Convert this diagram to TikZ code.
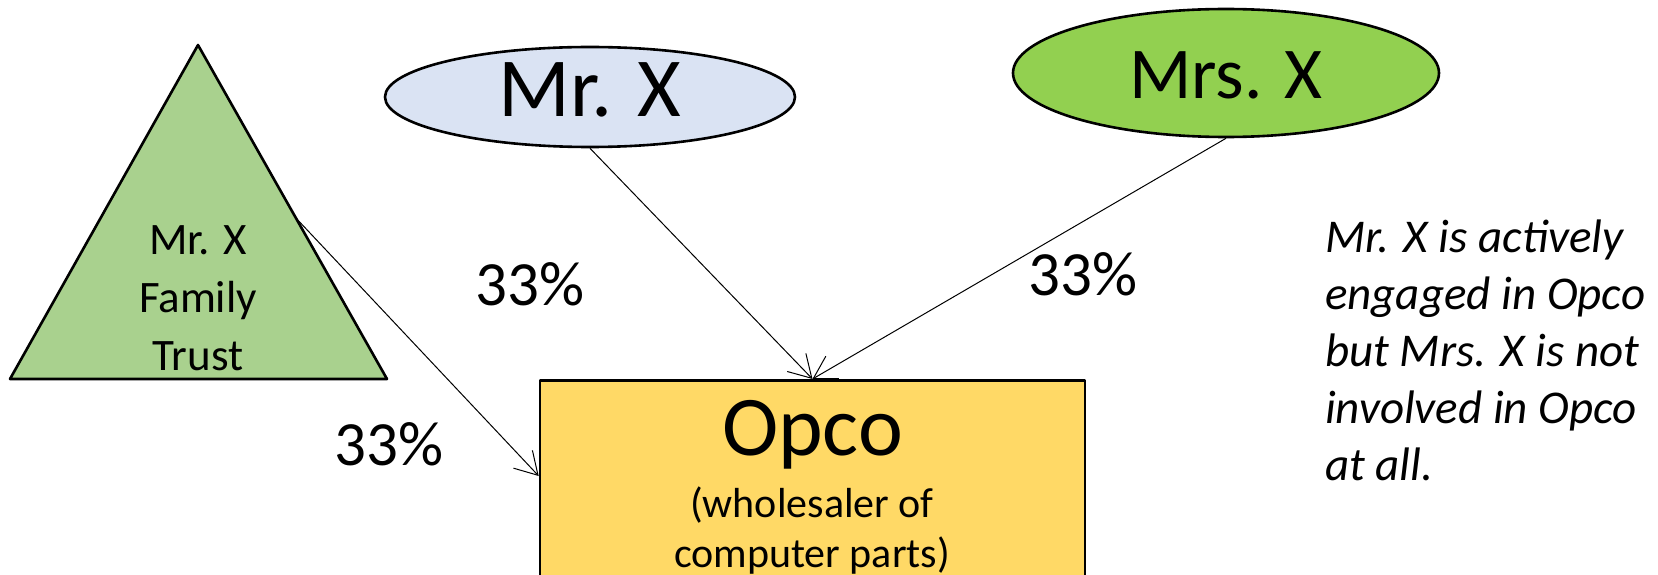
\documentclass[tikz,border=0pt]{standalone}
\usepackage{fontspec}
\setmainfont{Carlito}
\usetikzlibrary{arrows.meta,calc,shapes.geometric}

\definecolor{trustgreen}{HTML}{A9D18E}
\definecolor{mrblue}{HTML}{DAE3F3}
\definecolor{mrsgreen}{HTML}{92D050}
\definecolor{opcogold}{HTML}{FFD966}

\tikzset{
  border/.style={draw=black, line width=2.6pt, line join=round},
  owner/.style={border, ellipse, inner sep=0pt},
  stake/.style={draw=black, line width=1pt,
    -{Straight Barb[length=22pt, width=26pt, line width=1pt]}},
  pct/.style={font=\fontsize{63}{70}\selectfont, inner sep=0pt, anchor=base},
}

\begin{document}
\begin{tikzpicture}[x=1pt, y=-1pt]
\useasboundingbox (0,0) rectangle (1658,575);
\clip (0,0) rectangle (1658,575);

% family trust (triangle drawn as a path, text set inside it)
\coordinate (tA) at (198,45);
\coordinate (tL) at (10,379);
\coordinate (tR) at (387,379);
\draw[border, fill=trustgreen] (tA) -- (tL) -- (tR) -- cycle;
% multi-line nodes: the base anchor sits on the last line
\node[font=\fontsize{45}{58}\selectfont, align=center, inner sep=0pt, anchor=base]
  (trust) at (198,370) {Mr. X\\Family\\Trust};
\coordinate (trustout) at ($(tA)!0.518!(tR)$);

% shareholders
\node[owner, fill=mrblue, minimum width=410pt, minimum height=100pt,
      font=\fontsize{84}{90}\selectfont, text height=55pt, text depth=15pt]
  (mrx) at (590,97) {Mr. X};
\node[owner, fill=mrsgreen, minimum width=426pt, minimum height=128pt,
      font=\fontsize{73}{80}\selectfont, text height=52pt, text depth=0pt]
  (mrsx) at (1226,73) {Mrs. X};

% operating company (runs past the lower edge)
\node[border, fill=opcogold, minimum width=545pt, minimum height=240pt,
      anchor=north, inner sep=0pt] (opco) at (812.5,379) {};
\node[font=\fontsize{85}{90}\selectfont, inner sep=0pt, anchor=base]
  (opconame) at (812.5,455) {Opco};
\node[font=\fontsize{42}{50}\selectfont, align=center, inner sep=0pt, anchor=base]
  (opcodesc) at (812,567) {(wholesaler of\\computer parts)};

% ownership links
\coordinate (opcoin) at ($(opco.north west)+(0,97)$);
\draw[stake] (mrx.south) -- (opco.north);
\draw[stake] (mrsx.south) -- (opco.north);
\draw[stake] (trustout) -- (opcoin);

\node[pct] (pmr) at (530,305) {33\%};
\node[pct] (pmrs) at (1083,295) {33\%};
\node[pct] (ptrust) at (389,465) {33\%};

% note
\node[font=\fontsize{47}{57}\selectfont\itshape, align=left, inner sep=0pt,
      anchor=base west] (note) at (1325,480)
  {Mr. X is actively\\engaged in Opco\\but Mrs. X is not\\involved in Opco\\at all.};
\end{tikzpicture}
\end{document}
